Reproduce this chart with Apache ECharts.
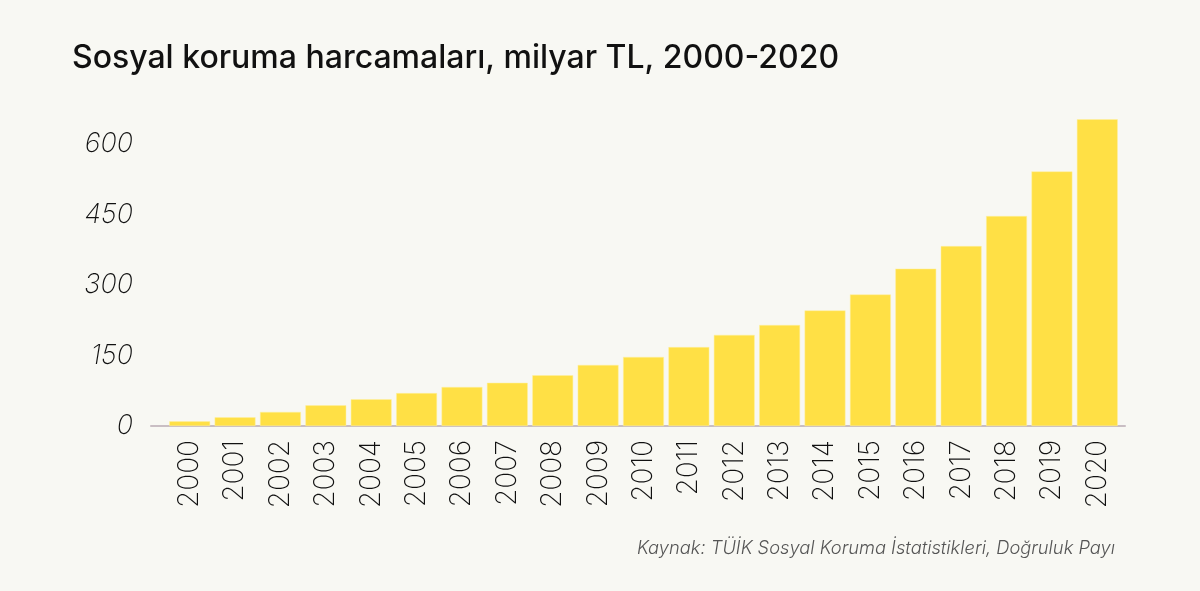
<!DOCTYPE html>
<html>
<head>
<meta charset="utf-8">
<script src="https://cdn.jsdelivr.net/npm/echarts@6/dist/echarts.min.js"></script>
<style>
html, body { margin: 0; padding: 0; background: #f8f8f3; }
#chart { width: 1200px; height: 591px; }
</style>
</head>
<body>
<div id="chart"></div>
<script>
// veriler (milyar TL)
var years = ['2000','2001','2002','2003','2004','2005','2006','2007','2008','2009','2010',
             '2011','2012','2013','2014','2015','2016','2017','2018','2019','2020'];
var spending = [10, 18.5, 30, 44, 57, 70, 83, 92, 108, 130, 147,
                168, 194, 215, 246, 280, 335, 383, 447, 542, 653];
var yTicks = [0, 150, 300, 450, 600];

var chart = echarts.init(document.getElementById('chart'));
var option = {
    backgroundColor: '#f8f8f3',
    animation: false,
    title: [{
        text: 'Sosyal koruma harcamaları, milyar TL, 2000-2020',
        left: 67, top: 37,
        textStyle: { fontFamily: 'Inter', fontWeight: 500, fontSize: 32, color: '#111' }
    }, {
        text: 'Kaynak: TÜİK Sosyal Koruma İstatistikleri, Doğruluk Payı',
        right: 80, top: 535,
        textStyle: { fontFamily: 'Inter', fontStyle: 'italic', fontWeight: 300, fontSize: 18.3, color: '#555' }
    }],
    grid: [
        { left: 167, right: 80, top: 116, bottom: 165 },
        // sadece taban çizgisi için geniş ızgara
        { left: 151, right: 75, top: 116, bottom: 165 }
    ],
    xAxis: [{
        type: 'category',
        gridIndex: 0,
        data: years,
        axisLine: { show: false },
        axisTick: { show: false },
        axisLabel: {
            rotate: 90, margin: 14,
            fontFamily: 'Inter', fontWeight: 200, fontSize: 28, color: '#111'
        }
    }, {
        type: 'value',
        gridIndex: 1,
        min: 0, max: 1,
        splitLine: { show: false },
        axisTick: { show: false },
        axisLabel: { show: false },
        axisLine: { show: true, onZero: false, lineStyle: { color: '#c9bec3', width: 2 } }
    }],
    yAxis: [{
        type: 'value',
        gridIndex: 0,
        min: 0, max: 660, interval: 150,
        splitLine: { show: false },
        axisLine: { show: false },
        axisTick: { show: false },
        axisLabel: {
            margin: 34,
            customValues: yTicks,
            fontFamily: 'Inter', fontStyle: 'italic', fontWeight: 200, fontSize: 27, color: '#111'
        }
    }, {
        type: 'value',
        gridIndex: 1,
        show: false
    }],
    series: [{
        type: 'bar',
        xAxisIndex: 0,
        yAxisIndex: 0,
        data: spending,
        barCategoryGap: '10%',
        itemStyle: { color: '#ffe045', borderColor: '#fff0a0', borderWidth: 0.5 }
    }]
};
chart.setOption(option);
</script>
</body>
</html>
